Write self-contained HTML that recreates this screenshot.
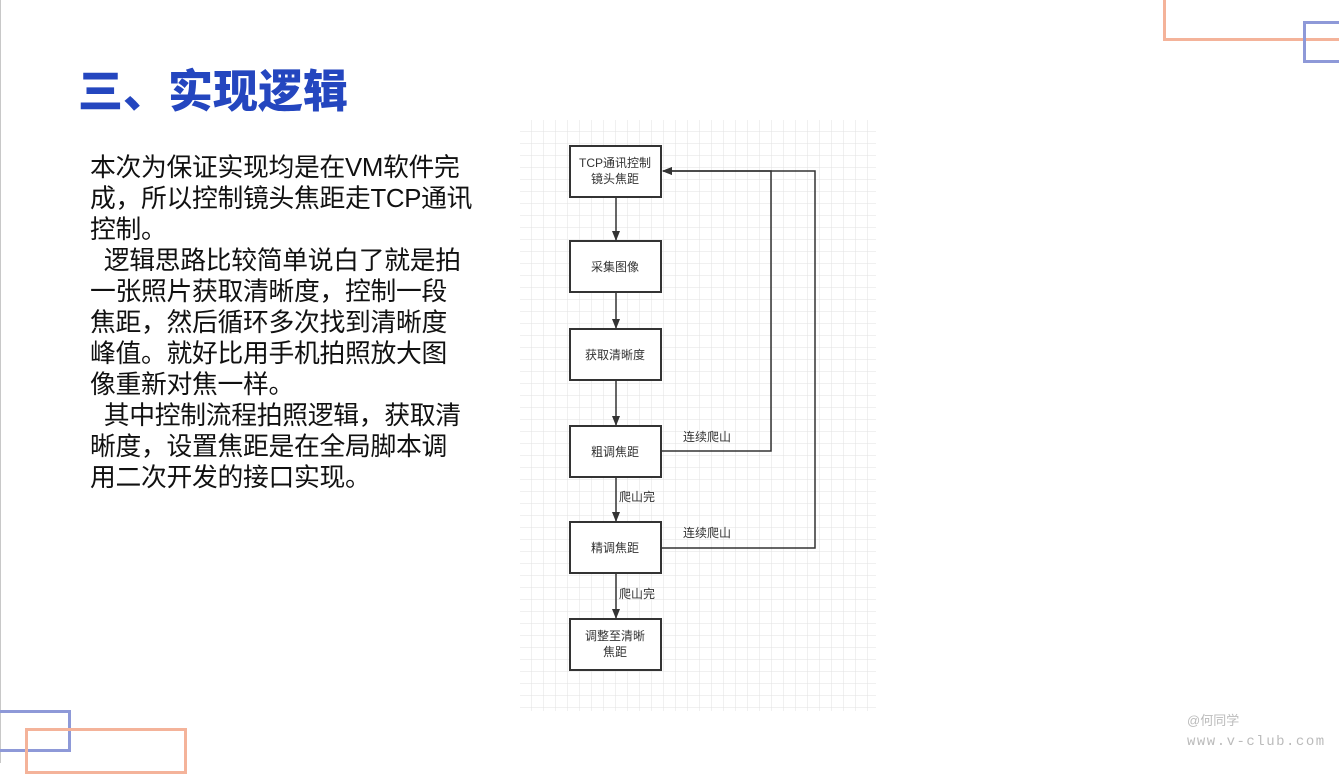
<!DOCTYPE html>
<html><head><meta charset="utf-8"><style>
html,body{margin:0;padding:0}
body{width:1339px;height:763px;position:relative;background:#fff;overflow:hidden;font-family:"Liberation Sans","Noto Sans CJK SC",sans-serif}
.a{position:absolute}
h1{position:absolute;left:78px;top:56px;margin:0;font-size:45px;font-weight:900;color:#2446bf;line-height:64px;font-family:"Noto Sans CJK SC",sans-serif}
.body{position:absolute;left:90px;top:153px;font-size:25.8px;line-height:31px;color:#111;white-space:nowrap;font-family:"Liberation Sans","Noto Sans CJK SC",sans-serif;letter-spacing:-0.3px}
</style></head><body>
<div class="a" style="left:0;top:0;width:1px;height:763px;background:#c8c8c8"></div>
<div class="a" style="left:1163px;top:0;width:176px;height:38px;border-left:3px solid #f4b39a;border-bottom:3px solid #f4b39a"></div>
<div class="a" style="left:1303px;top:21px;width:40px;height:36px;border:3px solid #8e99d8"></div>
<div class="a" style="left:-3px;top:710px;width:68px;height:36px;border:3px solid #8e99d8"></div>
<div class="a" style="left:25px;top:728px;width:156px;height:40px;border:3px solid #f4b39a"></div>
<h1>三、实现逻辑</h1>
<div class="body">本次为保证实现均是在VM软件完<br>成，所以控制镜头焦距走TCP通讯<br>控制。<br>&nbsp;&nbsp;逻辑思路比较简单说白了就是拍<br>一张照片获取清晰度，控制一段<br>焦距，然后循环多次找到清晰度<br>峰值。就好比用手机拍照放大图<br>像重新对焦一样。<br>&nbsp;&nbsp;其中控制流程拍照逻辑，获取清<br>晰度，设置焦距是在全局脚本调<br>用二次开发的接口实现。</div>
<svg class="a" style="left:520px;top:120px" width="356" height="591" viewBox="520 120 356 591">
<defs>
<pattern id="g" x="520" y="120" width="12" height="12" patternUnits="userSpaceOnUse"><path d="M12 0V12M0 12H12" stroke="#e2e2e2" stroke-width="1" fill="none"/></pattern>
<marker id="ar" markerWidth="10" markerHeight="10" refX="9" refY="5" orient="auto" markerUnits="userSpaceOnUse"><path d="M0 1L10 5L0 9Z" fill="#333"/></marker>
</defs>
<rect x="520" y="120" width="356" height="591" fill="url(#g)"/>
<g fill="#fff" stroke="#333" stroke-width="2">
<rect x="570" y="146" width="91" height="51"/>
<rect x="570" y="241" width="91" height="51"/>
<rect x="570" y="329" width="91" height="51"/>
<rect x="570" y="426" width="91" height="51"/>
<rect x="570" y="522" width="91" height="51"/>
<rect x="570" y="619" width="91" height="51"/>
</g>
<g stroke="#333" stroke-width="1.5" fill="none" marker-end="url(#ar)">
<path d="M616 197V240"/><path d="M616 292V328"/><path d="M616 380V425"/><path d="M616 477V521"/><path d="M616 573V618"/>
<path d="M661 451H771V171H663"/>
<path d="M661 548H815V171H663"/>
</g>
<g font-size="12" fill="#333" font-family="Liberation Sans,Noto Sans CJK SC,sans-serif" text-anchor="middle">
<text x="615" y="167">TCP通讯控制</text><text x="615" y="183">镜头焦距</text>
<text x="615" y="271">采集图像</text>
<text x="615" y="359">获取清晰度</text>
<text x="615" y="456">粗调焦距</text>
<text x="615" y="552">精调焦距</text>
<text x="615" y="640">调整至清晰</text><text x="615" y="656">焦距</text>
<text x="707" y="441">连续爬山</text>
<text x="707" y="537">连续爬山</text>
<text x="637" y="501">爬山完</text>
<text x="637" y="598">爬山完</text>
</g>
</svg>
<div class="a" style="left:1187px;top:710px;font-size:13px;color:#bbb">@何同学</div>
<div class="a" style="left:1187px;top:734px;font-size:14px;color:#bbb;letter-spacing:1.5px;font-family:'Liberation Mono',monospace">www.v-club.com</div>
</body></html>
